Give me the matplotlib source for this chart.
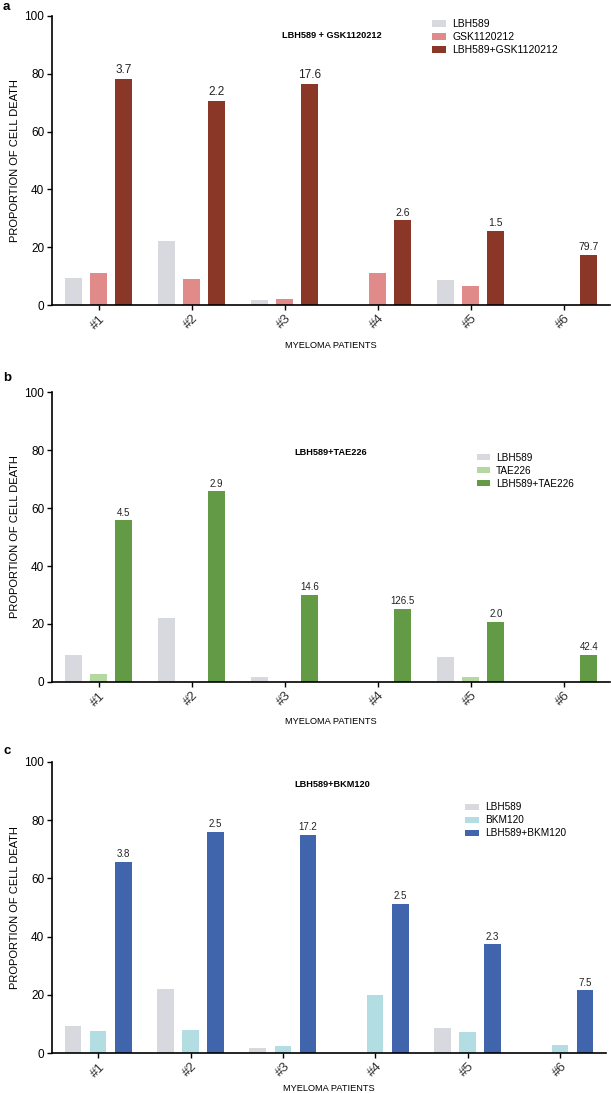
import matplotlib
matplotlib.use("Agg")
import matplotlib.pyplot as plt
import numpy as np
from matplotlib.patches import Patch

plt.rcParams['font.family'] = ['Liberation Sans', 'DejaVu Sans']

patients = ["#1", "#2", "#3", "#4", "#5", "#6"]

lbh589 = [9.3, 22.1, 1.8, 0.0, 8.6, 0.0]

# Panel a
gsk = [11.0, 9.1, 2.2, 11.0, 6.7, 0.0]
lbh_gsk = [78.2, 70.5, 76.4, 29.3, 25.7, 17.4]
labels_a = ["3.7", "2.2", "17.6", "2.6", "1.5", "79.7"]

# Panel b
tae = [2.9, 0.0, 0.0, 0.0, 1.6, 0.0]
lbh_tae = [55.7, 65.7, 30.0, 25.3, 20.8, 9.4]
labels_b = ["4.5", "2.9", "14.6", "126.5", "2.0", "42.4"]

# Panel c
bkm = [7.7, 7.9, 2.3, 20.0, 7.3, 2.8]
lbh_bkm = [65.6, 76.0, 74.9, 51.2, 37.3, 21.5]
labels_c = ["3.8", "2.5", "17.2", "2.5", "2.3", "7.5"]

W, H = 611, 1093
fig = plt.figure(figsize=(W / 100, H / 100), dpi=100)

def ax_rect(left, right, top, bottom):
    return [left / W, 1 - bottom / H, (right - left) / W, (bottom - top) / H]

panels = [
    dict(rect=ax_rect(52, 610, 16, 305), letter="a", letter_y=7,
         title="LBH589 + GSK1120212", title_pos=(0.502, 0.934),
         names=["LBH589", "GSK1120212", "LBH589+GSK1120212"],
         series=[lbh589, gsk, lbh_gsk],
         colors=["#d8d9de", "#e08a89", "#8a3727"],
         labels=labels_a, label_fs=[8.5, 8.5, 8.5, 7.5, 7.5, 7.5],
         leg_anchor=(0.681, 0.989), leg_fs=7.5, xpad=7),
    dict(rect=ax_rect(52, 610, 392, 682), letter="b", letter_y=378,
         title="LBH589+TAE226", title_pos=(0.5, 0.79),
         names=["LBH589", "TAE226", "LBH589+TAE226"],
         series=[lbh589, tae, lbh_tae],
         colors=["#d8d9de", "#b5d7a1", "#639a46"],
         labels=labels_b, label_fs=[7] * 6,
         leg_anchor=(0.761, 0.791), leg_fs=7.2, xpad=6),
    dict(rect=ax_rect(52, 606, 762, 1053), letter="c", letter_y=751,
         title="LBH589+BKM120", title_pos=(0.505, 0.924),
         names=["LBH589", "BKM120", "LBH589+BKM120"],
         series=[lbh589, bkm, lbh_bkm],
         colors=["#d8d9de", "#b2dde3", "#4165ad"],
         labels=labels_c, label_fs=[7] * 6,
         leg_anchor=(0.746, 0.861), leg_fs=7.2, xpad=3),
]

x = np.arange(len(patients))
offsets = [-0.272, 0.0, 0.272]
bw = 0.18

for p in panels:
    ax = fig.add_axes(p["rect"])
    bars = None
    for s, off, col, nm in zip(p["series"], offsets, p["colors"], p["names"]):
        bars = ax.bar(x + off, s, width=bw, color=col, label=nm, linewidth=0)
    for rect, lab, fs in zip(bars, p["labels"], p["label_fs"]):
        ax.annotate(lab, (rect.get_x() + rect.get_width() / 2, rect.get_height()),
                    xytext=(0, 2.0), textcoords="offset points",
                    ha="center", va="bottom", fontsize=fs, color="#222222")
    ax.set_xlim(-0.5, 5.5)
    ax.set_ylim(0, 100)
    ax.set_yticks([0, 20, 40, 60, 80, 100])
    ax.set_xticks(x)
    ax.set_xticklabels(patients, rotation=45, ha="center", fontsize=9.5, color="#333333")
    ax.tick_params(axis="y", labelsize=8.5, length=3.5, width=1.0, pad=2)
    ax.tick_params(axis="x", length=3.5, width=1.0, pad=2)
    for sp in ["top", "right"]:
        ax.spines[sp].set_visible(False)
    for sp in ["left", "bottom"]:
        ax.spines[sp].set_linewidth(1.2)
    ax.set_ylabel("PROPORTION OF CELL DEATH", fontsize=8, labelpad=3)
    ax.set_xlabel("MYELOMA PATIENTS", fontsize=6.7, labelpad=p["xpad"])
    ax.text(p["title_pos"][0], p["title_pos"][1], p["title"], transform=ax.transAxes,
            ha="center", va="center", fontsize=6.6, fontweight="bold")
    handles = [Patch(facecolor=c, edgecolor="none") for c in p["colors"]]
    ax.legend(handles, p["names"], loc="upper left", bbox_to_anchor=p["leg_anchor"],
              frameon=False, fontsize=p["leg_fs"], handlelength=1.35, handleheight=0.6,
              handletextpad=0.6, labelspacing=0.3, borderpad=0, borderaxespad=0)
    fig.text(3 / W, 1 - p["letter_y"] / H, p["letter"], fontsize=9.5, fontweight="bold",
             ha="left", va="center")

fig.savefig("out.png", dpi=100)
